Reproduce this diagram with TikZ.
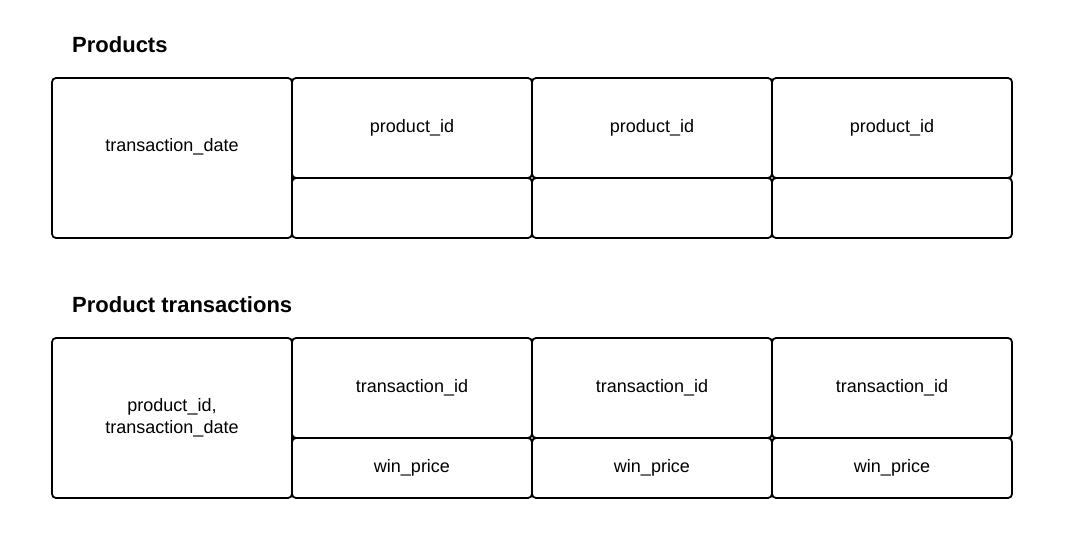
\documentclass[tikz,border=0pt]{standalone}
\usepackage{fontspec}
\setmainfont{Liberation Sans}
\usetikzlibrary{positioning}
\tikzset{keybox/.style={draw=black, line width=1.8pt, rounded corners=4pt, minimum width=240pt, minimum height=160pt, inner sep=0pt, outer sep=0pt, font=\fontsize{18}{22}\selectfont, align=center},
cellbox/.style={keybox, minimum height=100pt},
valbox/.style={keybox, minimum height=60pt},
titlenode/.style={anchor=west, inner sep=0pt, font=\fontsize{22}{26}\selectfont\bfseries}}

\begin{document}
\begin{tikzpicture}[x=1pt, y=1pt]
\useasboundingbox (0,0) rectangle (1075,544);
% Products
\node [titlenode] (ptitle) at (72,499) {Products};
\node [keybox] (pdate) at (172,386) {};
\node at ([yshift=11pt]pdate.center) {\fontsize{18}{22}\selectfont transaction\_date};
\node [cellbox] (pid1) [below right=0pt and 0pt of pdate.north east] {product\_id};
\node [cellbox] (pid2) [right=0pt of pid1] {product\_id};
\node [cellbox] (pid3) [right=0pt of pid2] {product\_id};
\node [valbox] (pval1) [below=0pt of pid1] {};
\node [valbox] (pval2) [below=0pt of pid2] {};
\node [valbox] (pval3) [below=0pt of pid3] {};
% Product transactions
\node [titlenode] (ttitle) at (72,239) {Product transactions};
\node [keybox] (tkey) at (172,126) {product\_id,\\transaction\_date};
\node [cellbox] (tid1) [below right=0pt and 0pt of tkey.north east] {transaction\_id};
\node [cellbox] (tid2) [right=0pt of tid1] {transaction\_id};
\node [cellbox] (tid3) [right=0pt of tid2] {transaction\_id};
\node [valbox] (tprice1) [below=0pt of tid1] {win\_price};
\node [valbox] (tprice2) [below=0pt of tid2] {win\_price};
\node [valbox] (tprice3) [below=0pt of tid3] {win\_price};
\end{tikzpicture}
\end{document}
